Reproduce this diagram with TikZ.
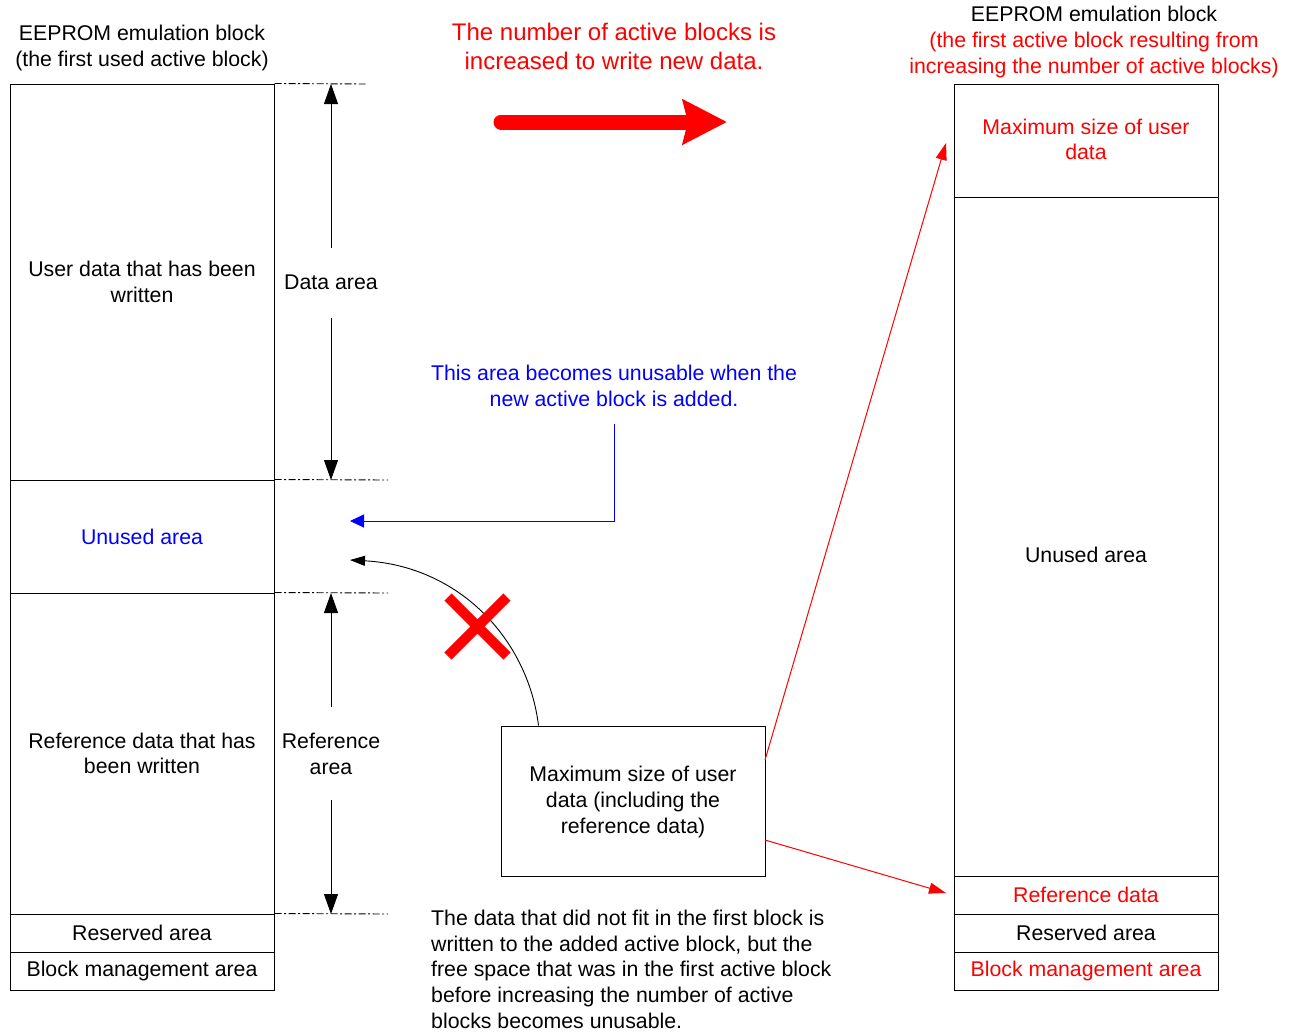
\documentclass[tikz,border=0pt]{standalone}
\usepackage{fontspec}
\setmainfont{Liberation Sans}
\usetikzlibrary{arrows.meta,calc}

\begin{document}
\begin{tikzpicture}[x=1pt,y=-1pt,
  every node/.style={font=\fontsize{21.3}{25.6}\selectfont, align=center, inner sep=0pt},
  blk/.style={draw, line width=1pt, minimum width=264pt},
  ddline/.style={line width=0.9pt, dash pattern=on 7pt off 2.5pt on 2pt off 2.5pt},
  dimarrow/.style={line width=0.9pt, -{Triangle[length=20pt,width=14pt]}},
  bluearrow/.style={blue, line width=1pt, -{Triangle[length=14pt,width=13pt]}},
  curvearrow/.style={line width=0.9pt, -{Triangle[length=15pt,width=10pt]}},
  redthin/.style={red, line width=1pt, -{Triangle[length=17pt,width=11pt]}},
  bigarrow/.style={red, line width=15pt, line cap=round, -{Stealth[length=44pt,width=44pt,inset=5pt]}},
  cross/.style={red, line width=10pt}
]
\useasboundingbox (0,0) rectangle (1296,1034);

% ---------- left block ----------
\node (ltitle) at (142,48) {EEPROM emulation block\\(the first used active block)};
\node[blk, minimum height=396pt] (ludata) at (142,282) {User data that has been\\written};
\node[blk, minimum height=113pt, text=blue] (lunused) at (142,536.5) {Unused area};
\node[blk, minimum height=321pt] (lref) at (142,753.5) {Reference data that has\\been written};
\node[blk, minimum height=38pt] (lres) at (142,933) {Reserved area};
\node[blk, minimum height=38pt] (lmgmt) at (142,971) {Block management area};

% dash-dot extension lines
\coordinate (e1) at (366,84);
\coordinate (e2) at (388,480);
\coordinate (e3) at (388,593);
\coordinate (e4) at (388,914);
\draw[ddline] (ludata.north east) -- (e1);
\draw[ddline] (lunused.north east) -- (e2);
\draw[ddline] (lref.north east) -- (e3);
\draw[ddline] (lres.north east) -- (e4);

% dimension arrows
\node (darea) at (331,282) {Data area};
\coordinate (d1) at (331,248);
\coordinate (d1t) at (331,84);
\coordinate (d2) at (331,318);
\coordinate (d2t) at (331,480);
\draw[dimarrow] (d1) -- (d1t);
\draw[dimarrow] (d2) -- (d2t);

\node (rarea) at (331,754) {Reference\\area};
\coordinate (r1) at (331,707);
\coordinate (r1t) at (331,593);
\coordinate (r2) at (331,800);
\coordinate (r2t) at (331,914);
\draw[dimarrow] (r1) -- (r1t);
\draw[dimarrow] (r2) -- (r2t);

% ---------- header and big arrow ----------
\node[text=red, font=\fontsize{24}{29}\selectfont] (head) at (614,46) {The number of active blocks is\\increased to write new data.};
\coordinate (bigA) at (501,122);
\coordinate (bigB) at (727,122);
\draw[bigarrow] (bigA) -- (bigB);

% ---------- blue note ----------
\node[text=blue] (bnote) at (614,386) {This area becomes unusable when the\\new active block is added.};
\coordinate (bstart) at (614,424);
\coordinate (bcorner) at (614,521);
\coordinate (bend) at (350,521);
\draw[bluearrow] (bstart) -- (bcorner) -- (bend);

% ---------- middle box ----------
\node[blk, minimum height=150pt] (mid) at (633,801) {};
\node (midtext) at (633,802) {Maximum size of user\\data (including the\\reference data)};
\coordinate (cstart) at ($(mid.north west)+(38,0)$);
\coordinate (cend) at (350,560);
\draw[curvearrow] (cstart) .. controls (528,640) and (460,566) .. (cend);
\draw[cross] (448,597) -- (507,656) (507,597) -- (448,656);

\node[anchor=north west, align=left] (bottomtext) at (431,910)
  {The data that did not fit in the first block is\\written to the added active block, but the\\free space that was in the first active block\\before increasing the number of active\\blocks becomes unusable.};

% ---------- right block ----------
\node (rtitle) at (1094,42) {EEPROM emulation block\\\textcolor{red}{(the first active block resulting from}\\\textcolor{red}{increasing the number of active blocks)}};
\node[blk, minimum height=113pt] (rmax) at (1086,140.5) {};
\node[text=red] (rmaxtext) at (1086,139.5) {Maximum size of user\\data};
\node[blk, minimum height=679pt] (runused) at (1086,536.5) {};
\node (runusedtext) at (1086,555) {Unused area};
\node[blk, minimum height=38pt, text=red] (rref) at (1086,895) {Reference data};
\node[blk, minimum height=38pt] (rres) at (1086,933) {Reserved area};
\node[blk, minimum height=38pt, text=red] (rmgmt) at (1086,971) {Block management area};

% red mapping arrows
\coordinate (m1) at (765,760);
\coordinate (m1t) at (946,143);
\coordinate (m2) at (765,840);
\coordinate (m2t) at (946,893);
\draw[redthin] (m1) -- (m1t);
\draw[redthin] (m2) -- (m2t);
\end{tikzpicture}
\end{document}
